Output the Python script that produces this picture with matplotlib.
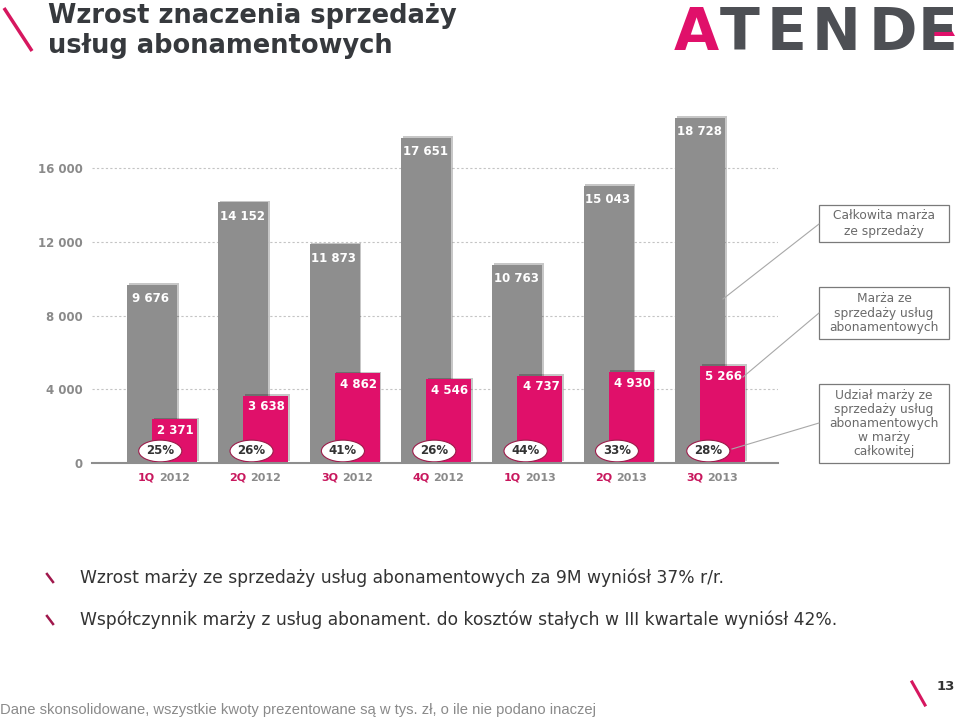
import matplotlib
matplotlib.use('Agg')
import matplotlib.pyplot as plt
import matplotlib.patheffects as pe
from matplotlib.patches import Rectangle, Polygon
import numpy as np

# --- data (tys. zł) ---
quarters = ['1Q', '2Q', '3Q', '4Q', '1Q', '2Q', '3Q']
years = ['2012', '2012', '2012', '2012', '2013', '2013', '2013']
total_margin = [9676, 14152, 11873, 17651, 10763, 15043, 18728]
subscr_margin = [2371, 3638, 4862, 4546, 4737, 4930, 5266]
share_pct = [25, 26, 41, 26, 44, 33, 28]
yticks = [0, 4000, 8000, 12000, 16000]

PINK = '#e0106a'
GREY = '#8e8e8e'
DARK = '#36393d'
LABEL_GREY = '#8a8a8a'

plt.rcParams['font.family'] = ['DejaVu Sans']


def fmt(v):
    return f'{v:,}'.replace(',', ' ')


W, H = 960, 719
fig = plt.figure(figsize=(W / 100, H / 100), dpi=100)

# chart axes placed in pixel terms
ax = fig.add_axes([92 / W, (H - 463) / H, 686 / W, 363 / H])
ax.set_xlim(-0.78, 6.73)
ax.set_ylim(0, 19700)

x = np.arange(len(total_margin))
off = 0.1232
shadow = [pe.SimplePatchShadow(offset=(1.2, 1.2), shadow_rgbFace='k', alpha=0.22),
          pe.Normal()]
gb = ax.bar(x - off, total_margin, width=0.5475, color=GREY, zorder=2)
pb = ax.bar(x + off, subscr_margin, width=0.4927, color=PINK, zorder=3)
for r in list(gb) + list(pb):
    r.set_path_effects(shadow)

for xi, v in zip(x, total_margin):
    ax.annotate(fmt(v), xy=(xi - off, v), xytext=(-1, -14), textcoords='offset pixels',
                ha='center', va='center', color='white', fontsize=8.5,
                fontweight='bold', zorder=6)
for xi, v in zip(x, subscr_margin):
    ax.annotate(fmt(v), xy=(xi + off, v), xytext=(1, -11), textcoords='offset pixels',
                ha='center', va='center', color='white', fontsize=8.5,
                fontweight='bold', zorder=6)
for xi, p in zip(x, share_pct):
    ax.annotate(f'{p}%', xy=(xi, 0), xytext=(-3, 12), textcoords='offset pixels',
                ha='center', va='center', color='#333333', fontsize=8.5,
                fontweight='bold', zorder=7,
                bbox=dict(boxstyle='ellipse,pad=0.1', fc='white', ec='#9c1b4a', lw=0.8))
for xi, q, yr in zip(x, quarters, years):
    ax.annotate(q, xy=(xi, 0), xytext=(-8, -15), textcoords='offset pixels',
                ha='right', va='center', color='#c8175d', fontsize=8, fontweight='bold')
    ax.annotate(yr, xy=(xi, 0), xytext=(-4, -15), textcoords='offset pixels',
                ha='left', va='center', color=LABEL_GREY, fontsize=8, fontweight='bold')

ax.set_xticks([])
ax.set_yticks(yticks)
ax.set_yticklabels([fmt(t) for t in yticks], color=LABEL_GREY, fontsize=8.5,
                   fontweight='bold')
ax.tick_params(axis='y', length=0, pad=6.5)
ax.yaxis.grid(True, linestyle=(0, (2, 2)), color='#c4c4c4', lw=0.8)
ax.set_axisbelow(True)
for s in ['left', 'right', 'top']:
    ax.spines[s].set_visible(False)
ax.spines['bottom'].set_color(GREY)
ax.spines['bottom'].set_linewidth(1.5)
ax.spines['bottom'].set_zorder(8)

# overlay in pixel coordinates for slide decoration
ov = fig.add_axes([0, 0, 1, 1])
ov.set_xlim(0, W)
ov.set_ylim(H, 0)
ov.axis('off')

ov.plot([4, 32], [8, 51], color='#d6175f', lw=2.5, solid_capstyle='butt')
ov.text(48, 16, 'Wzrost znaczenia sprzedaży', fontsize=18.5, fontweight='bold',
        color=DARK, ha='left', va='center')
ov.text(48, 46, 'usług abonamentowych', fontsize=18.5, fontweight='bold',
        color=DARK, ha='left', va='center')

# logo
logo = [('A', 696, PINK), ('T', 740, '#4d4f54'), ('E', 787, '#4d4f54'),
        ('N', 836, '#4d4f54'), ('D', 893, '#4d4f54'), ('E', 938, '#4d4f54')]
for ch, cx, col in logo:
    ov.text(cx, 33, ch, fontsize=42, fontweight='bold', color=col,
            ha='center', va='center')
ov.add_patch(Polygon([[930, 29], [951, 29], [955, 36], [934, 36]], closed=True,
                     fc=PINK, ec='none'))

# legend boxes with leader lines
boxes = [
    (205, 242, 'Całkowita marża\nze sprzedaży', 1.22, (723, 299), (819, 224)),
    (287, 339, 'Marża ze\nsprzedaży usług\nabonamentowych', 1.2, (743, 377), (819, 313)),
    (384, 463, 'Udział marży ze\nsprzedaży usług\nabonamentowych\nw marży\ncałkowitej',
     1.1, (732, 449), (819, 423)),
]
for y0, y1, txt, ls, p0, p1 in boxes:
    ov.add_patch(Rectangle((819, y0), 130, y1 - y0, fc='white', ec='#7a7a7a', lw=0.9))
    ov.text(884, (y0 + y1) / 2, txt, fontsize=8.8, color='#6a6a6a', ha='center',
            va='center', linespacing=ls)
    ov.plot([p0[0], p1[0]], [p0[1], p1[1]], color='#a8a8a8', lw=0.8)

# bullet points
bullets = ['Wzrost marży ze sprzedaży usług abonamentowych za 9M wyniósł 37% r/r.',
           'Współczynnik marży z usług abonament. do kosztów stałych w III kwartale wyniósł 42%.']
for yy, txt in zip([578, 620], bullets):
    ov.plot([47, 53], [yy - 4, yy + 4], color='#a0184c', lw=1.8)
    ov.text(80, yy, txt, fontsize=12.3, color='#333333', ha='left', va='center')

ov.text(0, 710, 'Dane skonsolidowane, wszystkie kwoty prezentowane są w tys. zł, '
        'o ile nie podano inaczej', fontsize=10.6, color=LABEL_GREY, ha='left',
        va='center', family='Liberation Sans')
ov.plot([912, 925], [682, 705], color='#d6175f', lw=2.2)
ov.text(946, 687, '13', fontsize=9.5, fontweight='bold', color='#333333',
        ha='center', va='center')

fig.savefig('out.png', dpi=100)
